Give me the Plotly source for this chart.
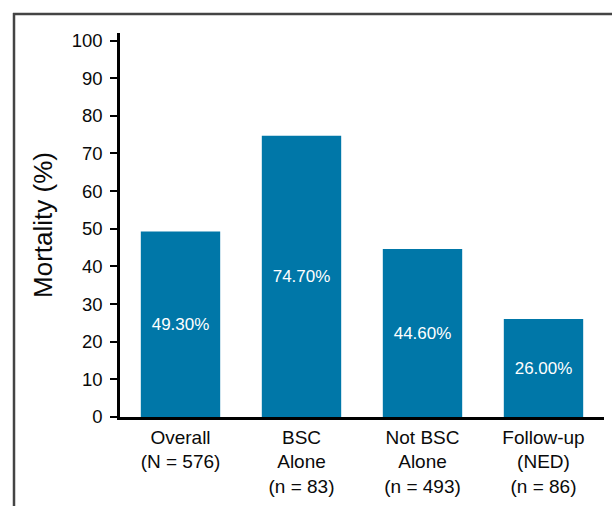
import plotly.graph_objects as go

# Mortality by treatment group
categories = [
    "Overall<br>(N = 576)",
    "BSC<br>Alone<br>(n = 83)",
    "Not BSC<br>Alone<br>(n = 493)",
    "Follow-up<br>(NED)<br>(n = 86)",
]
mortality = [49.3, 74.7, 44.6, 26.0]
y_ticks = [0, 10, 20, 30, 40, 50, 60, 70, 80, 90, 100]

BAR_COLOR = "#0077a8"
FONT = "Liberation Sans, Arial, sans-serif"
TEXT_COLOR = "#0a0a0a"

W, H = 612, 506
ML, MR, MT, MB = 120, 8, 33, 89
PW, PH = W - ML - MR, H - MT - MB


def px_x(px):
    return (px - ML) / PW


def px_y(py):
    return (H - MB - py) / PH


fig = go.Figure(
    go.Bar(
        x=categories,
        y=mortality,
        marker=dict(color=BAR_COLOR, line=dict(width=0)),
        width=0.656,
        text=[f"{v:.2f}%" for v in mortality],
        textposition="inside",
        insidetextanchor="middle",
        textfont=dict(color="#ffffff", size=17, family=FONT),
        textangle=0,
    )
)

fig.update_layout(
    width=W,
    height=H,
    margin=dict(l=ML, r=MR, t=MT, b=MB, pad=0, autoexpand=False),
    paper_bgcolor="white",
    plot_bgcolor="white",
    showlegend=False,
    font=dict(family=FONT, color=TEXT_COLOR),
    uniformtext=dict(mode=False),
)

fig.update_xaxes(
    automargin=False,
    range=[-0.5, 3.5],
    showline=True,
    linecolor="black",
    linewidth=2.5,
    showgrid=False,
    ticks="",
    tickfont=dict(size=19, family=FONT, color=TEXT_COLOR),
    ticklabelstandoff=1,
    zeroline=False,
)

fig.update_yaxes(
    automargin=False,
    range=[0, 102],
    tickvals=y_ticks,
    showline=True,
    linecolor="black",
    linewidth=2.5,
    showgrid=False,
    zeroline=False,
    ticks="outside",
    ticklen=7,
    tickwidth=1.5,
    tickcolor="black",
    tickfont=dict(size=18.5, family=FONT, color=TEXT_COLOR),
    ticklabelstandoff=4,
    title=dict(text="Mortality (%)", font=dict(size=26, family=FONT, color=TEXT_COLOR), standoff=12),
)

# Frame lines along the top and left edges of the figure
frame = dict(color="#444444", width=2.5)
fig.add_shape(type="line", xref="paper", yref="paper",
              x0=px_x(13), x1=px_x(612), y0=px_y(14), y1=px_y(14), line=frame)
fig.add_shape(type="line", xref="paper", yref="paper",
              x0=px_x(14), x1=px_x(14), y0=px_y(13), y1=px_y(506), line=frame)

fig.write_html("out.html")
